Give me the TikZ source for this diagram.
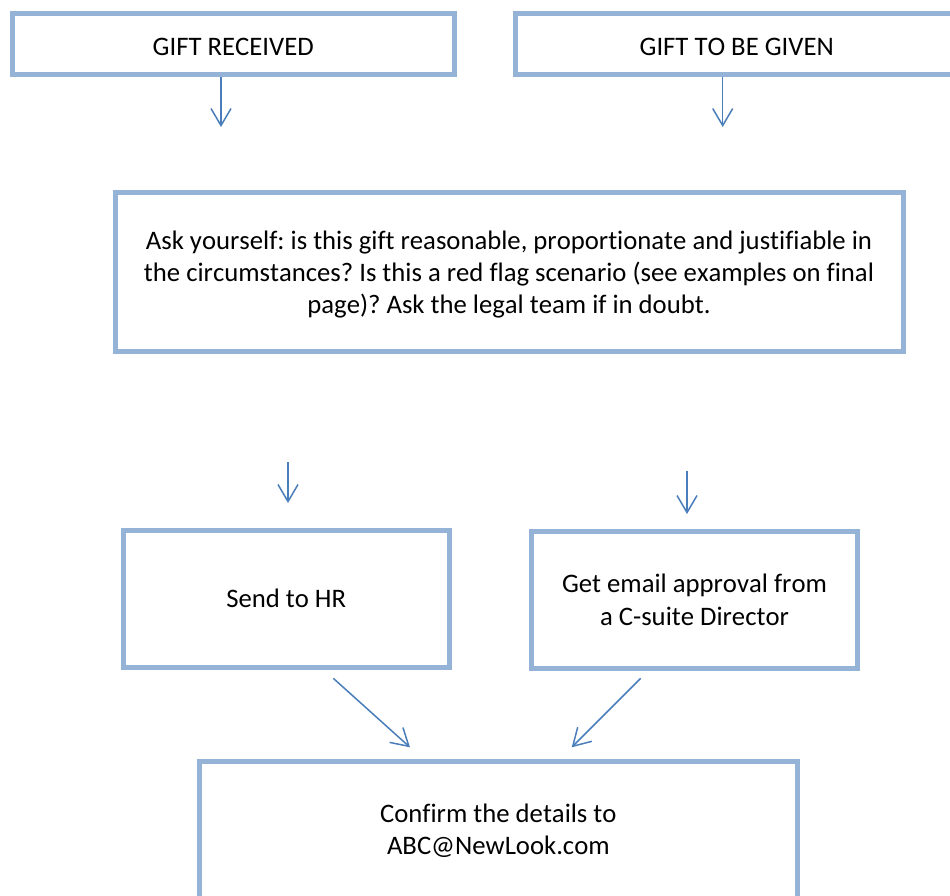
\documentclass[tikz,border=0pt]{standalone}
\usepackage{fontspec}
\setmainfont{Carlito}[Kerning=Off, Ligatures={NoCommon}]
\usetikzlibrary{arrows.meta}
\definecolor{boxblue}{RGB}{149,179,215}
\definecolor{arrowblue}{RGB}{74,126,187}
\frenchspacing
\begin{document}
\begin{tikzpicture}[x=1pt,y=-1pt,
  flowbox/.style={draw=boxblue, line width=5pt, rectangle, align=center,
    inner sep=0pt, font=\fontsize{26.7}{32.3}\selectfont, text=black},
  flowarrow/.style={draw=arrowblue, line width=1.5pt,
    -{Straight Barb[length=17pt,width=20pt,line width=1.5pt]}}]
\clip (0,0) rectangle (950,895);
\fill[white] (0,0) rectangle (950,895);
% boxes
\node[flowbox, minimum width=442.5pt, minimum height=61pt] (b1) at (233.25,44)
  {\raisebox{-2.5pt}[\height][0pt]{GIFT RECEIVED}};
\node[flowbox, minimum width=442.5pt, minimum height=61pt] (b2) at (736.75,44)
  {\raisebox{-2.5pt}[\height][0pt]{GIFT TO BE GIVEN}};
\node[flowbox, text height=89pt, minimum width=788pt, minimum height=158.5pt] (b3) at (509,271.75)
  {Ask yourself: is this gift reasonable, proportionate and justifiable in\\
   the circumstances? Is this a red flag scenario (see examples on final\\
   page)? Ask the legal team if in doubt.};
\node[flowbox, minimum width=325.7pt, minimum height=137.5pt] (b4) at (286.2,598.75)
  {Send to HR};
\node[flowbox, minimum width=326pt, minimum height=136.5pt] (b5) at (694.5,599.75)
  {Get email approval from\\ a C-suite Director};
\node[flowbox, minimum width=597.3pt, minimum height=138.3pt] (b6) at (498.35,830.85)
  {Confirm the details to\\ ABC@NewLook.com};
% arrow end points
\coordinate (a1e) at (221,127);
\coordinate (a2e) at (722.7,127);
\coordinate (a3s) at (288,462);
\coordinate (a3e) at (288,503);
\coordinate (a4s) at (687,471);
\coordinate (a4e) at (687,514);
\coordinate (a5s) at (333.3,678.3);
\coordinate (a5e) at (410,747.3);
\coordinate (a6s) at (640.7,678.3);
\coordinate (a6e) at (571.7,747.3);
% arrows
\draw[flowarrow] (b1.south -| a1e) -- (a1e);
\draw[flowarrow] (b2.south -| a2e) -- (a2e);
\draw[flowarrow] (a3s) -- (a3e);
\draw[flowarrow] (a4s) -- (a4e);
\draw[flowarrow] (a5s) -- (a5e);
\draw[flowarrow] (a6s) -- (a6e);
\end{tikzpicture}
\end{document}
